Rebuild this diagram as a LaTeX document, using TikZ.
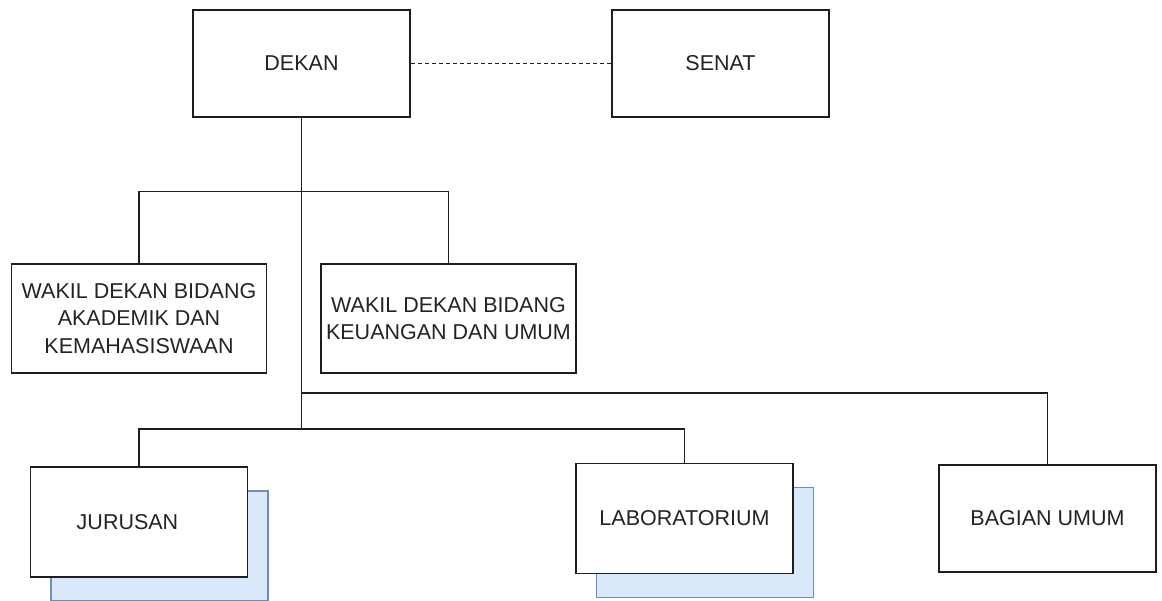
\documentclass[tikz,border=0pt]{standalone}
\usepackage{fontspec}
\setmainfont{Liberation Sans}
\usepackage{tikz}
\usetikzlibrary{arrows,shapes,positioning,shadows}
\usepackage{xcolor}
\definecolor{orgline}{RGB}{30,30,30}
\definecolor{orgtext}{RGB}{35,35,35}
\definecolor{shadowfill}{RGB}{218,232,252}
\definecolor{shadowline}{RGB}{108,142,191}
\tikzstyle{unit} = [rectangle, minimum width=217pt, minimum height=107pt, inner sep=0pt, align=center, draw=orgline, fill=white, line width=1.5pt, text=orgtext, font=\fontsize{21.5}{27.5}\selectfont]
\tikzstyle{wide} = [unit, minimum width=255pt, minimum height=109pt]
\tikzstyle{stacked} = [unit, minimum height=110pt, copy shadow={shadow xshift=20.5pt, shadow yshift=-24pt, fill=shadowfill, draw=shadowline, line width=1.5pt}]
\tikzstyle{link} = [line width=1.5pt, color=orgline]

\begin{document}
\begin{tikzpicture}[x=1pt, y=-1pt]
\useasboundingbox (0,0) rectangle (1162,600);
% Top level
\node (dekan) [unit] at (301.5,63.5) {DEKAN};
\node (senat) [unit, right of=dekan, node distance=419pt] {SENAT};

% Wakil dekan
\node (wakil1) [wide] at (139,318.5) {WAKIL DEKAN BIDANG\\AKADEMIK DAN\\KEMAHASISWAAN};
\node (wakil2) [wide, right of=wakil1, node distance=309.5pt] {WAKIL DEKAN BIDANG\\KEUANGAN DAN UMUM};

% Units
\node (jurusan) [stacked, below of=wakil1, node distance=203.5pt] {JURUSAN\hspace*{23pt}};
\node (lab) [stacked] at (684.5,518.5) {LABORATORIUM};
\node (bagian) [unit, right of=lab, node distance=363pt] {BAGIAN UMUM};

% Lines
\coordinate (tap) at ([yshift=-275pt]dekan.south);
\coordinate (split) at ([yshift=-311pt]dekan.south);
\draw[link, dashed, dash pattern=on 4pt off 3pt, line width=1.1pt] (dekan.east) -- (senat.west);
\draw[link] (dekan.south) -- (split);
\draw[link] (wakil1.north) -- ++(0,-72) -| (wakil2.north);
\draw[link] (tap) -| (bagian.north);
\draw[link] (jurusan.north) |- (split) -| (lab.north);
\end{tikzpicture}
\end{document}
